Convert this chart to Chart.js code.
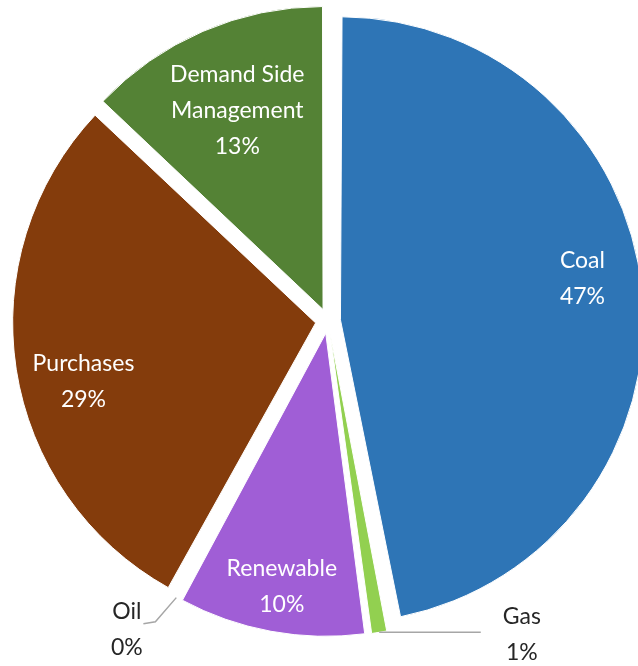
<!DOCTYPE html>
<html>
<head>
    <title>Resource Mix</title>
    <script src="https://cdn.jsdelivr.net/npm/chart.js"></script>
    <style>
        html, body {
            margin: 0;
            padding: 0;
            background-color: #ffffff;
            overflow: hidden;
        }
    </style>
</head>
<body>

    <canvas id="mixPie" width="638" height="666"></canvas>

    <script>
        // slice order is clockwise from 12 o'clock
        const sources = ['Coal', 'Gas', 'Renewable', 'Oil', 'Purchases', 'Demand Side Management'];
        const shares = [47, 1, 10, 0.2, 29, 13];
        const labelLines = [['Coal'], ['Gas'], ['Renewable'], ['Oil'], ['Purchases'], ['Demand Side', 'Management']];
        const sliceColors = ['#2e75b6', '#92d050', '#a05ed6', '#e8735a', '#843c0c', '#548235'];

        const pieRadius = 303;
        const explode = 50; // chart.js v4 moves each slice by offset / 4

        // where each label sits: fraction of radius, angle nudge (deg), inside or outside
        const labelPlace = [
            { r: 0.81, shift: -4, inside: true },
            { r: 1.18, shift: -23.1, inside: false },
            { r: 0.85, shift: -0.6, inside: true },
            { r: 1.175, shift: 4.5, inside: false },
            { r: 0.79, shift: -5.3, inside: true },
            { r: 0.714, shift: 0, inside: true }
        ];

        // chart.js also grows exploded slices a little; keep every slice the same size
        const evenRadius = {
            id: 'evenRadius',
            beforeDatasetsDraw(chart) {
                chart.getDatasetMeta(0).data.forEach(arc => {
                    const circ = arc.endAngle - arc.startAngle;
                    const fix = 1 - Math.sin(Math.min(Math.PI, circ));
                    arc.outerRadius = pieRadius - (arc.options.offset / 4) * fix;
                });
            }
        };

        const sliceLabels = {
            id: 'sliceLabels',
            afterDatasetsDraw(chart) {
                const ctx = chart.ctx;
                const arcs = chart.getDatasetMeta(0).data;
                const lineH = 36;
                ctx.save();
                ctx.font = '23px Lato';
                ctx.textAlign = 'center';
                ctx.textBaseline = 'middle';

                arcs.forEach((arc, i) => {
                    const place = labelPlace[i];
                    const mid = (arc.startAngle + arc.endAngle) / 2;
                    const off = arc.options.offset / 4;
                    const vx = arc.x + Math.cos(mid) * off;
                    const vy = arc.y + Math.sin(mid) * off;
                    const a = mid + place.shift * Math.PI / 180;
                    const lx = vx + Math.cos(a) * pieRadius * place.r;
                    const ly = vy + Math.sin(a) * pieRadius * place.r;
                    const lines = labelLines[i].concat([Math.round(shares[i]) + '%']);

                    if (!place.inside) {
                        // leader line from the slice edge to the label
                        const ex = vx + Math.cos(mid) * pieRadius;
                        const ey = vy + Math.sin(mid) * pieRadius;
                        const halfW = Math.max(...lines.map(t => ctx.measureText(t).width)) / 2;
                        ctx.strokeStyle = '#a6a6a6';
                        ctx.lineWidth = 1.5;
                        ctx.beginPath();
                        ctx.moveTo(ex, ey);
                        if (lx > ex) {
                            ctx.lineTo(lx - halfW - 22, ey);
                        } else {
                            const endX = lx + ctx.measureText(lines[0]).width / 2 + 2;
                            const endY = ly - 6;
                            ctx.lineTo(endX + 12, endY - 2);
                            ctx.lineTo(endX, endY);
                        }
                        ctx.stroke();
                    }

                    ctx.fillStyle = place.inside ? '#ffffff' : '#262626';
                    lines.forEach((t, k) => {
                        ctx.fillText(t, lx, ly + (k - (lines.length - 1) / 2) * lineH);
                    });
                });
                ctx.restore();
            }
        };

        const ctx = document.getElementById('mixPie').getContext('2d');
        const mixChart = new Chart(ctx, {
            type: 'pie',
            data: {
                labels: sources,
                datasets: [{
                    data: shares,
                    backgroundColor: sliceColors,
                    borderColor: '#ffffff',
                    borderWidth: 1,
                    offset: explode,
                    clip: false
                }]
            },
            options: {
                responsive: false,
                animation: false,
                radius: pieRadius,
                layout: {
                    padding: { left: 18, right: 0, top: 0, bottom: 24 }
                },
                plugins: {
                    legend: { display: false },
                    tooltip: { enabled: false }
                }
            },
            plugins: [evenRadius, sliceLabels]
        });
    </script>
</body>
</html>
